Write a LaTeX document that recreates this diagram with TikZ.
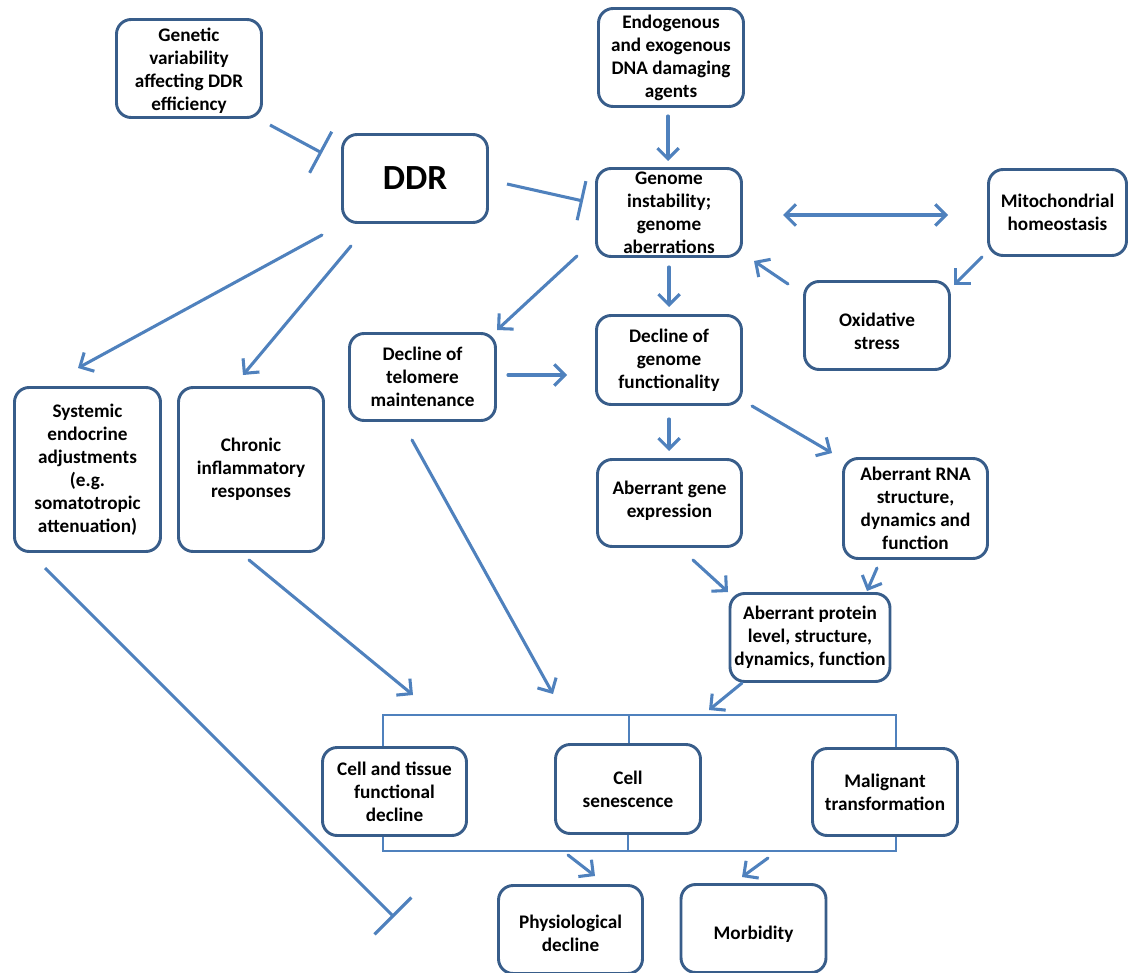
\documentclass[tikz,border=0pt]{standalone}
\usepackage{fontspec}
\setmainfont{Carlito}
\usetikzlibrary{arrows.meta}
\definecolor{arrowc}{RGB}{79,129,189}
\definecolor{boxc}{RGB}{56,93,138}
\begin{document}
\begin{tikzpicture}[x=0.75pt,y=-0.75pt,
  boxtext/.style={align=center, inner sep=0pt,
    font=\fontsize{14.4}{17.25}\selectfont\bfseries},
  box/.style={draw=boxc, line width=2.2pt, rounded corners=11pt, fill=white,
    boxtext, minimum width=108.75pt, minimum height=66pt},
  arr/.style={draw=arrowc, line width=2.3pt, line cap=round,
    -{Straight Barb[length=8pt,width=16pt]}},
  dbl/.style={draw=arrowc, line width=2.3pt,
    {Straight Barb[length=8pt,width=16pt]}-{Straight Barb[length=8pt,width=16pt]}},
  inh/.style={draw=arrowc, line width=2.3pt, -{Bar[width=#1]}},
  brk/.style={draw=arrowc, line width=1.6pt}
]
\useasboundingbox (0,0) rectangle (1130,973);

% nodes
\node[box, minimum height=73.5pt,
  label={[boxtext, yshift=-1.5pt]center:Genetic\\variability\\affecting DDR\\efficiency}] (gen) at (189,68.5) {};
\node[box, font=\fontsize{26.5}{30}\selectfont\bfseries] (ddr) at (415,178.5) {DDR};
\node[box, minimum height=73.5pt] (endo) at (671,57.5) {Endogenous\\and exogenous\\DNA damaging\\agents};
\node[box] (gi) at (669,212.5) {Genome\\instability;\\genome\\aberrations};
\node[box, minimum width=103.5pt, minimum height=64.5pt] (mito) at (1057.5,212.5) {Mitochondrial\\homeostasis};
\node[box, label={[boxtext, yshift=-4.5pt]center:Oxidative\\stress}] (ox) at (877,325.5) {};
\node[box, minimum height=66.75pt] (dg) at (669,360) {Decline of\\genome\\functionality};
\node[box, minimum width=109.5pt, minimum height=65.25pt] (tel) at (422.5,377) {Decline of\\telomere\\maintenance};
\node[box, minimum width=109.5pt, minimum height=123pt] (sys) at (87.5,469.5) {Systemic\\endocrine\\adjustments\\(e.g.\\somatotropic\\attenuation)};
\node[box, minimum height=123pt] (chr) at (251,469.5) {Chronic\\inflammatory\\responses};
\node[box, minimum width=108pt, minimum height=65.25pt,
  label={[boxtext, yshift=1.5pt]center:Aberrant gene\\expression}] (ag) at (669.5,503) {};
\node[box, minimum width=108pt, minimum height=75pt] (rna) at (915.5,508.5) {Aberrant RNA\\structure,\\dynamics and\\function};
\node[box, minimum width=120pt] (prot) at (810,637.5) {Aberrant protein\\level, structure,\\dynamics, function};
\node[box, minimum width=108pt] (ct) at (394.5,791.5) {Cell and tissue\\functional\\decline};
\node[box, minimum height=66.75pt] (sen) at (628,789) {Cell\\senescence};
\node[box, minimum height=65.25pt] (mal) at (885,792) {Malignant\\transformation};
\node[box, minimum width=108pt,
  label={[boxtext, yshift=-2.5pt]center:Physiological\\decline}] (phy) at (570.5,929.5) {};
\node[box, label={[boxtext, yshift=-4.5pt]center:Morbidity}] (mor) at (753.5,928.5) {};

% bracket corners
\coordinate (brTL) at (383,715);
\coordinate (brTR) at (896,715);
\coordinate (brTM) at (629,715);
\coordinate (brBL) at (383,851);
\coordinate (brBR) at (896,851);
\coordinate (brBM) at (628,851);
\draw[brk] (ct.north -| brTL) -- (brTL) -- (brTR) -- (mal.north -| brTR);
\draw[brk] (brTM) -- (sen.north -| brTM);
\draw[brk] (ct.south -| brBL) -- (brBL) -- (brBR) -- (mal.south -| brBR);
\draw[brk] (sen.south -| brBM) -- (brBM);

% connector end points
\coordinate (genS) at (270,125);  \coordinate (ddrIn) at (322,153);
\coordinate (ddrS) at (507,184);  \coordinate (giIn) at (583,201);
\coordinate (sysS) at (45,568);   \coordinate (phyIn) at (394,917);
\coordinate (endoS) at (668,116); \coordinate (giT) at (668,161);
\coordinate (giR) at (783,215);   \coordinate (mitoL) at (948,215);
\coordinate (mitoS) at (982,257); \coordinate (oxT) at (954,285);
\coordinate (oxS) at (788,284);   \coordinate (giBR) at (754,261);
\coordinate (giB) at (669,267);   \coordinate (dgT) at (669,307);
\coordinate (giBL) at (577,256);  \coordinate (telT) at (497,330);
\coordinate (telR) at (508,375);  \coordinate (dgL) at (567,375);
\coordinate (ddrBL) at (322,235); \coordinate (sysT) at (78,368);
\coordinate (ddrB) at (351,246);  \coordinate (chrT) at (243,375);
\coordinate (dgB) at (669,419);   \coordinate (agT) at (669,451);
\coordinate (dgBR) at (752,406);  \coordinate (rnaT) at (832,453);
\coordinate (agB) at (693,560);   \coordinate (protTL) at (728,592);
\coordinate (rnaB) at (877,568);  \coordinate (protTR) at (867,591);
\coordinate (protB) at (742,683); \coordinate (brIn1) at (709,710);
\coordinate (chrB) at (249,560);  \coordinate (brIn2) at (413,695);
\coordinate (telB) at (412,440);  \coordinate (brIn3) at (553,694);
\coordinate (brOut1) at (568,855); \coordinate (phyT) at (595,876);
\coordinate (brOut2) at (768,858); \coordinate (morT) at (742,877);

% inhibitions
\draw[inh=35pt] (genS) -- (ddrIn);
\draw[inh=30pt] (ddrS) -- (giIn);
\draw[inh=39pt] (sysS) -- (phyIn);

% arrows
\draw[arr] (endoS) -- (giT);
\draw[dbl] (giR) -- (mitoL);
\draw[arr] (mitoS) -- (oxT);
\draw[arr] (oxS) -- (giBR);
\draw[arr] (giB) -- (dgT);
\draw[arr] (giBL) -- (telT);
\draw[arr] (telR) -- (dgL);
\draw[arr] (ddrBL) -- (sysT);
\draw[arr] (ddrB) -- (chrT);
\draw[arr] (dgB) -- (agT);
\draw[arr] (dgBR) -- (rnaT);
\draw[arr] (agB) -- (protTL);
\draw[arr] (rnaB) -- (protTR);
\draw[arr] (protB) -- (brIn1);
\draw[arr] (chrB) -- (brIn2);
\draw[arr] (telB) -- (brIn3);
\draw[arr] (brOut1) -- (phyT);
\draw[arr] (brOut2) -- (morT);
\end{tikzpicture}
\end{document}
